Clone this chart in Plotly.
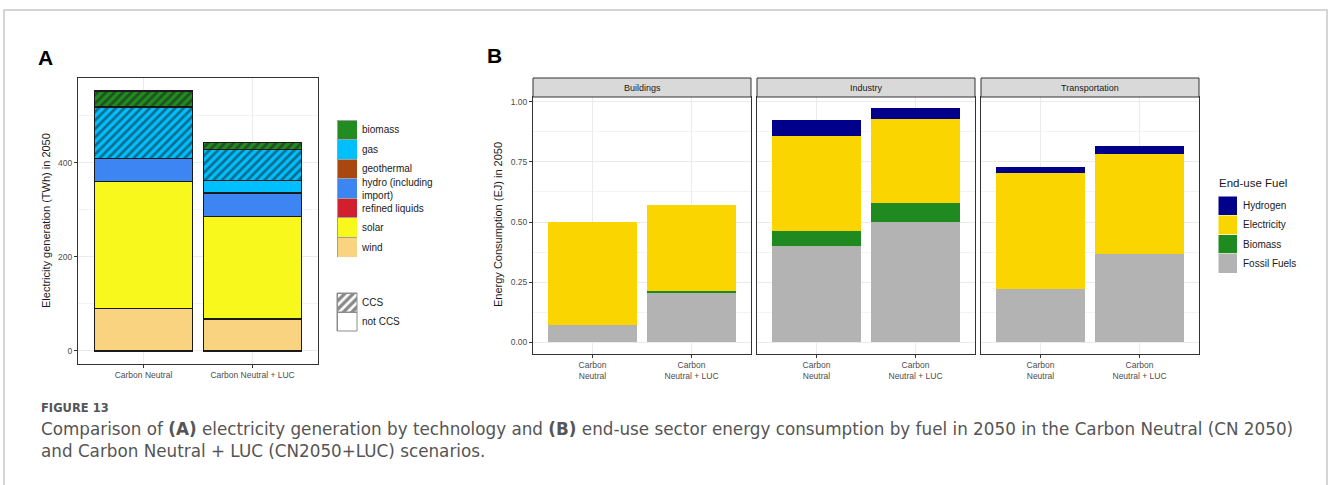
import plotly.graph_objects as go

W, H = 1328, 485


def px(x):
    return x / W


def py(y):
    return 1 - y / H


# ---------------- Panel A data (TWh) ----------------
scen_A = ["Carbon Neutral", "Carbon Neutral + LUC"]
wind = [90, 68]
solar = [270, 218]
hydro = [50, 50]
gas = [None, 27]
gas_ccs = [109, 66]
biomass_ccs = [34, 14]

tech_names = ["biomass", "gas", "geothermal", "hydro (including<br>import)",
              "refined liquids", "solar", "wind"]
tech_colors = ["#228B22", "#00BFFF", "#A8470F", "#3D85F2", "#D11F2E", "#F8F81C", "#F9D380"]
ccs_names = ["CCS", "not CCS"]

# ---------------- Panel B data (EJ) ----------------
sectors = ["Buildings", "Industry", "Transportation"]
scen_B = ["Carbon<br>Neutral", "Carbon<br>Neutral + LUC"]
fuel_names = ["Hydrogen", "Electricity", "Biomass", "Fossil Fuels"]
fuel_colors = ["#00008B", "#FAD500", "#1F8A1F", "#B3B3B3"]
fossil_fuels = [[0.072, 0.204], [0.402, 0.501], [0.222, 0.366]]
biomass_fuel = [[0.002, 0.010], [0.061, 0.079], [0.0, 0.0]]
electricity = [[0.427, 0.357], [0.396, 0.347], [0.483, 0.418]]
hydrogen = [[0.0, 0.0], [0.065, 0.047], [0.025, 0.031]]

A_yticks = [0, 200, 400]
B_yticks = [0, 0.25, 0.5, 0.75, 1.0]

col = dict(zip(["biomass", "gas", "geothermal", "hydro", "refined", "solar", "wind"], tech_colors))
fcol = dict(zip(fuel_names, fuel_colors))

fig = go.Figure()

edge = dict(color="#1a1a1a", width=1.3)


def hatch(c):
    return dict(shape="/", fgcolor="#1a1a1a", bgcolor=c, size=6, solidity=0.45)


# Panel A stacked bars (bottom to top)
fig.add_trace(go.Bar(x=scen_A, y=wind, marker=dict(color=col["wind"], line=edge), xaxis="x", yaxis="y"))
fig.add_trace(go.Bar(x=scen_A, y=solar, marker=dict(color=col["solar"], line=edge), xaxis="x", yaxis="y"))
fig.add_trace(go.Bar(x=scen_A, y=hydro, marker=dict(color=col["hydro"], line=edge), xaxis="x", yaxis="y"))
fig.add_trace(go.Bar(x=scen_A, y=gas, marker=dict(color=col["gas"], line=edge), xaxis="x", yaxis="y"))
fig.add_trace(go.Bar(x=scen_A, y=gas_ccs, marker=dict(color=col["gas"], line=edge, pattern=hatch(col["gas"])),
                     xaxis="x", yaxis="y"))
fig.add_trace(go.Bar(x=scen_A, y=biomass_ccs,
                     marker=dict(color=col["biomass"], line=edge, pattern=hatch(col["biomass"])),
                     xaxis="x", yaxis="y"))

# Panel B facets
for i, s in enumerate(sectors):
    xa = "x%d" % (i + 2)
    ya = "y%d" % (i + 2)
    for vals, name in [(fossil_fuels, "Fossil Fuels"), (biomass_fuel, "Biomass"),
                       (electricity, "Electricity"), (hydrogen, "Hydrogen")]:
        fig.add_trace(go.Bar(x=scen_B, y=vals[i], marker=dict(color=fcol[name], line=dict(width=0)),
                             xaxis=xa, yaxis=ya))

# Legend swatches (hidden axes)
for name, c in zip(tech_names, tech_colors):
    fig.add_trace(go.Bar(x=[0], y=[1], width=1, cliponaxis=False,
                         marker=dict(color=c, line=dict(color="#A0A0A0", width=1)),
                         xaxis="x5", yaxis="y5"))
fig.add_trace(go.Bar(x=[0], y=[1], width=1, cliponaxis=False,
                     marker=dict(color="white", line=dict(color="#8C8C8C", width=1),
                                 pattern=dict(shape="/", fgcolor="#111111", bgcolor="white", size=6,
                                              solidity=0.55)),
                     xaxis="x6", yaxis="y6"))
fig.add_trace(go.Bar(x=[0], y=[1], width=1, cliponaxis=False,
                     marker=dict(color="white", line=dict(color="#8C8C8C", width=1)),
                     xaxis="x6", yaxis="y6"))
for name, c in zip(fuel_names, fuel_colors):
    fig.add_trace(go.Bar(x=[0], y=[1], width=1, cliponaxis=False,
                         marker=dict(color=c, line=dict(color="white", width=0.5)),
                         xaxis="x7", yaxis="y7"))

fig.update_traces(showlegend=False, hoverinfo="skip")

FONT = "Liberation Sans, Arial"
tickfont = dict(family=FONT, size=8.5, color="#4D4D4D")
base_axis = dict(showline=True, linecolor="#333333", linewidth=1, mirror=True, ticks="outside",
                 ticklen=3, tickcolor="#333333", gridcolor="#EBEBEB", gridwidth=1, zeroline=False,
                 tickfont=tickfont, fixedrange=True)

layout = dict(
    width=W, height=H, margin=dict(l=0, r=0, t=0, b=0),
    paper_bgcolor="white", plot_bgcolor="white", barmode="stack", bargap=0.1,
    font=dict(family=FONT, color="#1a1a1a"),
)

layout["xaxis"] = dict(base_axis, domain=[px(78), px(318)], anchor="y", type="category",
                       range=[-0.6, 1.6])
layout["yaxis"] = dict(base_axis, domain=[py(364), py(78)], anchor="x", range=[-27.7, 580.7],
                       tickvals=A_yticks,
                       minor=dict(dtick=100, tick0=0, showgrid=True, gridcolor="#F3F3F3", gridwidth=0.6,
                                  ticks=""))

panels = [(533, 751), (757, 975), (981, 1199)]
for i, (x0, x1) in enumerate(panels):
    n = i + 2
    layout["xaxis%d" % n] = dict(base_axis, domain=[px(x0), px(x1)], anchor="y%d" % n, type="category",
                                 range=[-0.6, 1.6])
    ya = dict(base_axis, domain=[py(354), py(97)], anchor="x%d" % n, range=[-0.0486, 1.0195],
              tickvals=B_yticks, tickformat=".2f",
              minor=dict(dtick=0.125, tick0=0, showgrid=True, gridcolor="#F3F3F3", gridwidth=0.6, ticks=""))
    if i > 0:
        ya.update(showticklabels=False, ticks="")
    layout["yaxis%d" % n] = ya

hidden_x = dict(visible=False, range=[-0.5, 0.5], fixedrange=True)
leg_font = dict(family=FONT, size=10, color="#1a1a1a")
layout["xaxis5"] = dict(hidden_x, domain=[px(337), px(357)], anchor="y5")
layout["yaxis5"] = dict(domain=[py(257), py(120)], anchor="x5", range=[len(tech_names), 0], side="right",
                        tickvals=[k + 0.5 for k in range(len(tech_names))], ticktext=tech_names,
                        showgrid=False, zeroline=False, showline=False, ticks="", tickfont=leg_font,
                        ticklabelstandoff=4, fixedrange=True)
layout["xaxis6"] = dict(hidden_x, domain=[px(337), px(357)], anchor="y6")
layout["yaxis6"] = dict(domain=[py(331), py(293)], anchor="x6", range=[len(ccs_names), 0], side="right",
                        tickvals=[k + 0.5 for k in range(len(ccs_names))], ticktext=ccs_names,
                        showgrid=False, zeroline=False, showline=False, ticks="", tickfont=leg_font,
                        ticklabelstandoff=4, fixedrange=True)
layout["xaxis7"] = dict(hidden_x, domain=[px(1218), px(1237)], anchor="y7")
layout["yaxis7"] = dict(domain=[py(273), py(196)], anchor="x7", range=[len(fuel_names), 0], side="right",
                        tickvals=[k + 0.5 for k in range(len(fuel_names))], ticktext=fuel_names,
                        showgrid=False, zeroline=False, showline=False, ticks="", tickfont=leg_font,
                        ticklabelstandoff=5, fixedrange=True)

shapes = [dict(type="rect", xref="paper", yref="paper", x0=px(4), x1=px(1327), y0=py(495), y1=py(10),
               line=dict(color="#C8C8C8", width=1.5), fillcolor="rgba(0,0,0,0)", layer="below"),
          dict(type="rect", xref="x6 domain", yref="y6 domain", x0=0, x1=1, y0=0, y1=1,
               line=dict(color="#8C8C8C", width=1), fillcolor="rgba(0,0,0,0)"),
          dict(type="line", xref="x6 domain", yref="y6 domain", x0=0, x1=1, y0=0.5, y1=0.5,
               line=dict(color="#8C8C8C", width=1))]
annotations = []
for (x0, x1), s in zip(panels, sectors):
    shapes.append(dict(type="rect", xref="paper", yref="paper", x0=px(x0), x1=px(x1), y0=py(97), y1=py(78),
                       fillcolor="#D9D9D9", line=dict(color="#333333", width=1)))
    annotations.append(dict(text=s, xref="paper", yref="paper", x=px((x0 + x1) / 2), y=py(87.5),
                            showarrow=False, font=dict(size=9, color="#1a1a1a"), xanchor="center",
                            yanchor="middle"))

CAP = "DejaVu Sans"
annotations += [
    dict(text="<b>A</b>", xref="paper", yref="paper", x=px(36), y=py(57), xanchor="left", yanchor="middle",
         showarrow=False, font=dict(family=FONT, size=21, color="black")),
    dict(text="<b>B</b>", xref="paper", yref="paper", x=px(485), y=py(55), xanchor="left", yanchor="middle",
         showarrow=False, font=dict(family=FONT, size=21, color="black")),
    dict(text="Electricity generation (TWh) in 2050", xref="paper", yref="paper", x=px(46), y=py(221),
         textangle=-90, showarrow=False, xanchor="center", yanchor="middle",
         font=dict(size=11, color="#1a1a1a")),
    dict(text="Energy Consumption (EJ) in 2050", xref="paper", yref="paper", x=px(498), y=py(225),
         textangle=-90, showarrow=False, xanchor="center", yanchor="middle",
         font=dict(size=11, color="#1a1a1a")),
    dict(text="End-use Fuel", xref="paper", yref="paper", x=px(1217), y=py(183), xanchor="left",
         yanchor="middle", showarrow=False, font=dict(size=11.5, color="#1a1a1a")),
    dict(text="<b>FIGURE 13</b>", xref="paper", yref="paper", x=px(39), y=py(408), xanchor="left",
         yanchor="middle", showarrow=False, font=dict(family=CAP, size=11.5, color="#555555")),
    dict(text="Comparison of <b>(A)</b> electricity generation by technology and <b>(B)</b> end-use sector "
              "energy consumption by fuel in 2050 in the Carbon Neutral (CN 2050)",
         xref="paper", yref="paper", x=px(39), y=py(429), xanchor="left", yanchor="middle", showarrow=False,
         font=dict(family=CAP, size=16.8, color="#555555")),
    dict(text="and Carbon Neutral + LUC (CN2050+LUC) scenarios.",
         xref="paper", yref="paper", x=px(39), y=py(451), xanchor="left", yanchor="middle", showarrow=False,
         font=dict(family=CAP, size=16.8, color="#555555")),
]

layout["shapes"] = shapes
layout["annotations"] = annotations
fig.update_layout(**layout)

fig.write_html("out.html")
